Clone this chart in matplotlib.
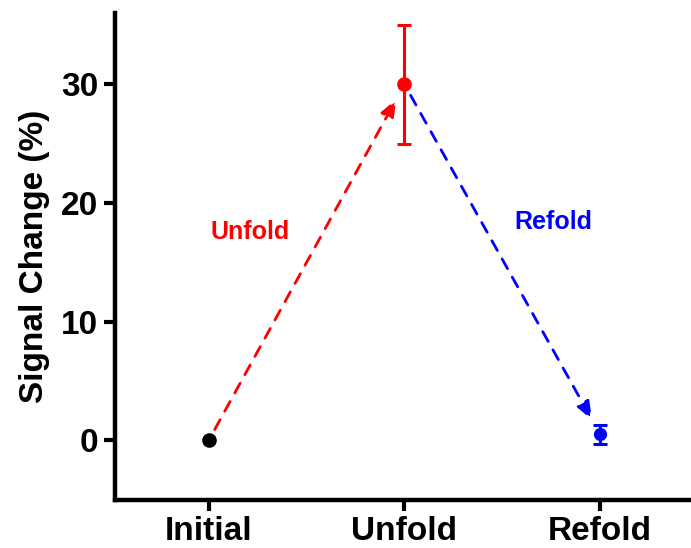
import matplotlib
matplotlib.use("Agg")
import matplotlib.pyplot as plt
import numpy as np

# data
stages = ["Initial", "Unfold", "Refold"]
signal = [0.0, 30.0, 0.5]
signal_err = [0.0, 5.0, 0.8]
colors = ["#000000", "#FF0000", "#0000FF"]
arrow_labels = ["Unfold", "Refold"]

plt.rcParams["font.family"] = ["Liberation Sans", "DejaVu Sans"]
plt.rcParams["font.weight"] = "bold"

fig = plt.figure(figsize=(6.91, 5.48), dpi=100)
ax = fig.add_axes([0.166, 0.088, 0.833, 0.888])

x = np.arange(len(stages))

for i in range(len(stages)):
    ms = 8.5 if i == 2 else 9.5
    if signal_err[i] > 0:
        ax.errorbar(x[i], signal[i], yerr=signal_err[i], fmt="o", color=colors[i],
                    ms=ms, elinewidth=2.2, capsize=5, capthick=2.2, zorder=3)
    else:
        ax.plot(x[i], signal[i], "o", color=colors[i], ms=ms, zorder=3)

# dashed arrows between stages
for i in range(len(stages) - 1):
    c = colors[i + 1]
    ax.annotate("", xy=(x[i + 1], signal[i + 1]), xytext=(x[i], signal[i]),
                arrowprops=dict(arrowstyle="-|>,head_length=1.1,head_width=0.42",
                                color=c, lw=2.0, linestyle=(0, (4, 3.5)),
                                shrinkA=9, shrinkB=12))

ax.text(0.21, 17.6, arrow_labels[0], color=colors[1], fontsize=18,
        fontweight="bold", ha="center", va="center")
ax.text(1.76, 18.4, arrow_labels[1], color=colors[2], fontsize=18,
        fontweight="bold", ha="center", va="center")

ax.set_xlim(-0.48, 2.46)
ax.set_ylim(-5, 36)
ax.set_xticks(x)
ax.set_xticklabels(stages, fontsize=24, fontweight="bold")
ax.set_yticks([0, 10, 20, 30])
ax.set_yticklabels(["0", "10", "20", "30"], fontsize=24, fontweight="bold")
ax.set_ylabel("Signal Change (%)", fontsize=24, fontweight="bold", labelpad=8)

ax.spines["top"].set_visible(False)
ax.spines["right"].set_visible(False)
for s in ["left", "bottom"]:
    ax.spines[s].set_linewidth(3.2)
ax.tick_params(width=3, length=8, direction="out", pad=4)

fig.savefig("out.png", dpi=100)
